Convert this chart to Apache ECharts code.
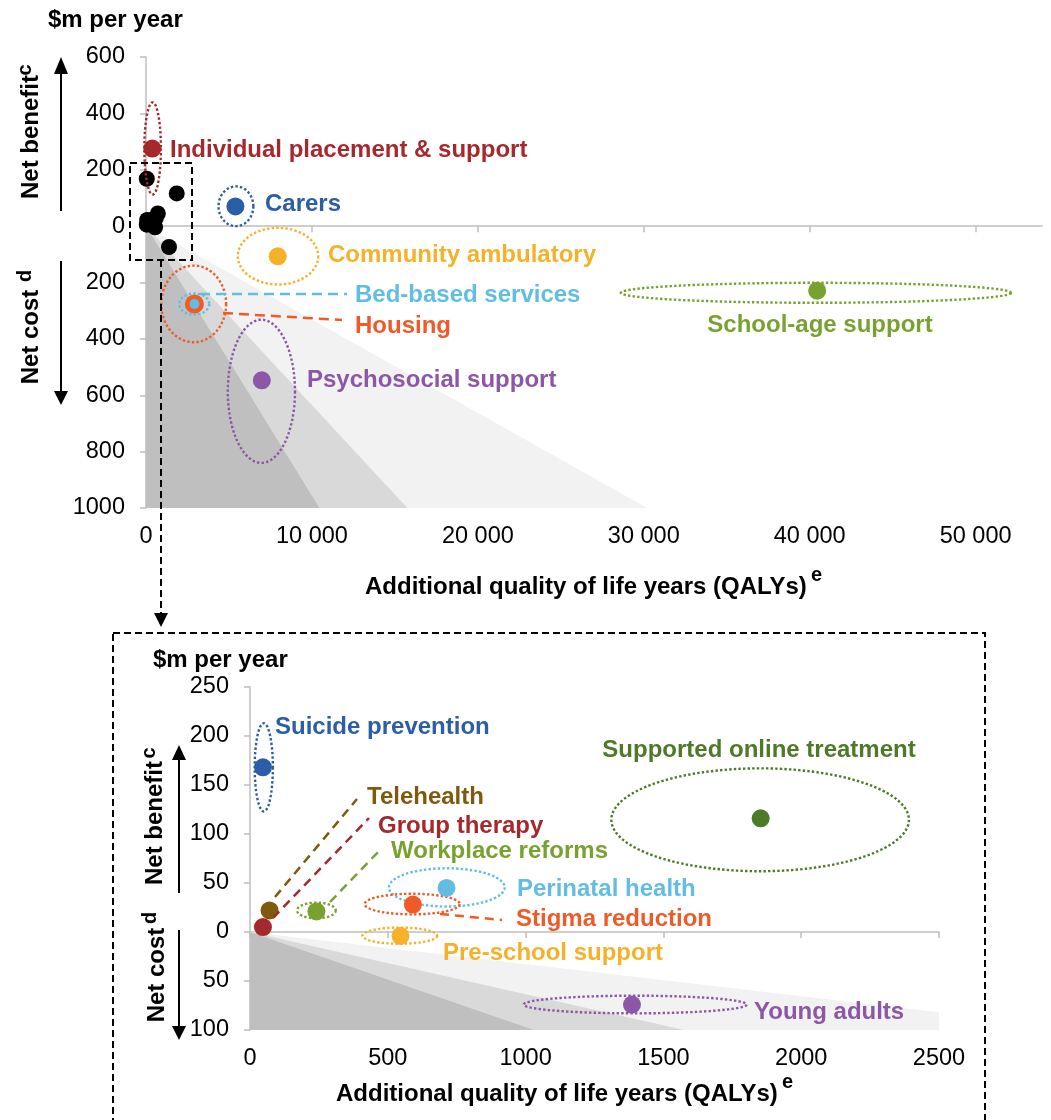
<!DOCTYPE html>
<html><head><meta charset="utf-8">
<script src="https://cdn.jsdelivr.net/npm/echarts@6/dist/echarts.min.js"></script>
<style>html,body{margin:0;padding:0;background:#fff}#c{width:1051px;height:1120px}</style>
</head><body><div id="c"></div>
<script>
// ---------------- DATA ----------------
// Top panel: interventions (additional QALYs, net benefit in $m per year; negative = net cost)
const topNames = ['Individual placement & support','Carers','Community ambulatory','Housing','Bed-based services','Psychosocial support','School-age support'];
const topQALYs = [380, 5390, 7940, 2920, 2920, 6980, 40450];
const topNetBenefit = [275, 70, -107, -276, -276, -547, -229];
// uncertainty ranges (ellipses)
const topQALYLow  = [-100, 4370, 5530, 920, 2000, 4930, 28620];
const topQALYHigh = [900, 6470, 10380, 4830, 3810, 8980, 52130];
const topBenefitLow  = [112, 0, -207, -412, -314, -840, -272];
const topBenefitHigh = [439, 141, -6, -140, -239, -332, -201];

// Bottom panel (zoom of the dashed box)
const botNames = ['Suicide prevention','Telehealth','Group therapy','Workplace reforms','Perinatal health','Stigma reduction','Pre-school support','Supported online treatment','Young adults'];
const botQALYs = [47, 71, 47, 241, 713, 591, 546, 1853, 1386];
const botNetBenefit = [168, 22, 5, 21, 45, 28, -4, 116, -74];
const botQALYLow  = [17, null, null, 171, 504, 416, 408, 1311, 993];
const botQALYHigh = [83, null, null, 311, 924, 761, 679, 2391, 1802];
const botBenefitLow  = [123, null, null, 14, 26, 18, -12, 62, -83];
const botBenefitHigh = [213, null, null, 30, 65, 39, 4.5, 167, -65];

// Cost-effectiveness wedges: QALYs reached at the bottom of each panel (light, medium, dark)
const topWedgeQALYs = [30200, 15750, 10450];   // at net cost of $1000m
const botWedgeQALYs = [3050, 1575, 1030];      // at net cost of $100m
const topWedgeCost = -1000, botWedgeCost = -100;

// Tick labels
const topXTicks = [0, 10000, 20000, 30000, 40000, 50000];
const botXTicks = [0, 500, 1000, 1500, 2000, 2500];

// ---------------- STYLES ----------------
const colorOf = {
  'Individual placement & support':'#a5282c','Carers':'#2b5ea6','Community ambulatory':'#f6b12a',
  'Housing':'#f05a28','Bed-based services':'#62bde3','Psychosocial support':'#8b57a6','School-age support':'#78a22f',
  'Suicide prevention':'#2b5ea6','Telehealth':'#7f5a0c','Group therapy':'#a5282c','Workplace reforms':'#78a22f',
  'Perinatal health':'#62bde3','Stigma reduction':'#f05a28','Pre-school support':'#f6b12a',
  'Supported online treatment':'#4d7a26','Young adults':'#8b57a6'
};
const sizeOf = {'Housing':19,'Bed-based services':10};
const wedgeColors = ['#f2f2f2','#d9d9d9','#bfbfbf'];
const FONT = '"Liberation Sans", Arial, sans-serif';
const AX = '#bfbfbf';

function ellipseRender(params, api) {
  const p0 = api.coord([api.value(0), api.value(2)]);
  const p1 = api.coord([api.value(1), api.value(3)]);
  const cx = (p0[0]+p1[0])/2, cy = (p0[1]+p1[1])/2;
  const rx = Math.abs(p1[0]-p0[0])/2, ry = Math.abs(p1[1]-p0[1])/2;
  const pts = [];
  for (let i = 0; i < 120; i++) { const t = i/120*2*Math.PI; pts.push([cx+rx*Math.cos(t), cy+ry*Math.sin(t)]); }
  return {type:'polygon', shape:{points:pts}, style:{fill:'none', stroke:api.visual('color'), lineWidth:2.4, lineDash:[2.4,2.2]}};
}
function ellipseData(names, xl, xh, yl, yh) {
  const out = [];
  names.forEach((n,i) => { if (xl[i] !== null) out.push({name:n, value:[xl[i], xh[i], yl[i], yh[i]], itemStyle:{color:colorOf[n]}}); });
  return out;
}
function dotData(names, xs, ys) {
  return names.map((n,i) => ({name:n, value:[xs[i], ys[i]], symbolSize:sizeOf[n]||18, itemStyle:{color:colorOf[n]}}));
}
function wedgeSeries(ends, cost, xi, yi) {
  return ends.map((q,i) => ({type:'line', xAxisIndex:xi, yAxisIndex:yi, data:[[0,0],[q,cost]], symbol:'none', silent:true,
    lineStyle:{width:0}, areaStyle:{color:wedgeColors[i], opacity:1, origin:'start'}, z:1+i*0.1, animation:false}));
}
const fmtThousand = v => v === 0 ? '0' : (Math.round(v/1000) + ' 000');

function axesFor(grid, min, max, ticks, fmt) {
  return [
    {gridIndex:grid, type:'value', min:min, max:max, position:'bottom',
     axisLine:{show:true, onZero:true, lineStyle:{color:AX, width:1.5}},
     axisTick:{show:true, inside:false, length:6, lineStyle:{color:AX, width:1.5}, customValues:ticks},
     axisLabel:{show:false}, splitLine:{show:false}},
    {gridIndex:grid, type:'value', min:min, max:max, position:'bottom',
     axisLine:{show:false, onZero:false}, axisTick:{show:false}, splitLine:{show:false},
     axisLabel:{show:true, customValues:ticks, formatter:fmt, color:'#000', fontSize:23.5, fontFamily:FONT, margin:17}}
  ];
}

// ---------------- ANNOTATIONS ----------------
const G = [];
function txt(x, y, s, color, size, bold, align, rot) {
  G.push({type:'text', x:x, y:y, rotation:rot||0, z:100,
    style:{text:s, fill:color, font:(bold?'bold ':'')+size+'px '+FONT, textAlign:align||'left', align:align||'left',
           textVerticalAlign:'middle', verticalAlign:'middle'}});
}
function seg(x1,y1,x2,y2,color,dash,w) {
  G.push({type:'line', z:100, shape:{x1:x1,y1:y1,x2:x2,y2:y2}, style:{stroke:color, lineWidth:w||2.5, lineDash:dash||null}});
}
function head(pts) { G.push({type:'polygon', z:100, shape:{points:pts}, style:{fill:'#000'}}); }

const LS = 24;
// top panel labels
txt(48, 20, '$m per year', '#000', LS, true);
txt(170, 150, 'Individual placement & support', colorOf['Individual placement & support'], LS, true);
txt(265, 204, 'Carers', colorOf['Carers'], LS, true);
txt(328, 255, 'Community ambulatory', colorOf['Community ambulatory'], LS, true);
txt(355, 295, 'Bed-based services', colorOf['Bed-based services'], LS, true);
txt(355, 326, 'Housing', colorOf['Housing'], LS, true);
txt(820, 325, 'School-age support', colorOf['School-age support'], LS, true, 'center');
txt(307, 380, 'Psychosocial support', colorOf['Psychosocial support'], LS, true);
seg(200, 294, 347, 294, colorOf['Bed-based services'], [10,6]);
seg(223, 313, 342, 320, colorOf['Housing'], [10,6]);
txt(31, 137, 'Net benefit', '#000', LS, true, 'center', Math.PI/2);
txt(25, 70, 'c', '#000', 20, true, 'center', Math.PI/2);
txt(31, 337, 'Net cost', '#000', LS, true, 'center', Math.PI/2);
txt(25, 276, 'd', '#000', 20, true, 'center', Math.PI/2);
seg(61, 211, 61, 72, '#000', null, 2); head([[54,74],[68,74],[61,57]]);
seg(61, 261, 61, 392, '#000', null, 2); head([[54,391],[68,391],[61,405]]);
txt(365, 587, 'Additional quality of life years (QALYs)', '#000', LS, true);
txt(811, 575, 'e', '#000', 20, true);
// zoom box & connector
G.push({type:'rect', z:100, shape:{x:130, y:163, width:62, height:97}, style:{fill:'none', stroke:'#000', lineWidth:2, lineDash:[7,4]}});
seg(161, 260, 161, 614, '#000', [7,4], 2); head([[154,613],[168,613],[161,627]]);
G.push({type:'rect', z:100, shape:{x:113, y:633, width:872, height:540}, style:{fill:'none', stroke:'#000', lineWidth:2, lineDash:[7,4]}});

// bottom panel labels
txt(153, 660, '$m per year', '#000', LS, true);
txt(275, 727, 'Suicide prevention', colorOf['Suicide prevention'], LS, true);
txt(759, 750, 'Supported online treatment', colorOf['Supported online treatment'], LS, true, 'center');
txt(367, 797, 'Telehealth', colorOf['Telehealth'], LS, true);
txt(378, 826, 'Group therapy', colorOf['Group therapy'], LS, true);
txt(391, 851, 'Workplace reforms', colorOf['Workplace reforms'], LS, true);
txt(517, 889, 'Perinatal health', colorOf['Perinatal health'], LS, true);
txt(516, 919, 'Stigma reduction', colorOf['Stigma reduction'], LS, true);
txt(443, 953, 'Pre-school support', colorOf['Pre-school support'], LS, true);
txt(754, 1012, 'Young adults', colorOf['Young adults'], LS, true);
seg(275, 897, 357, 799, colorOf['Telehealth'], [9,6]);
seg(273, 918, 369, 818, colorOf['Group therapy'], [9,6]);
seg(330, 902, 380, 850, colorOf['Workplace reforms'], [9,6]);
seg(440, 914, 502, 920, colorOf['Stigma reduction'], [9,6]);
txt(155, 823, 'Net benefit', '#000', LS, true, 'center', Math.PI/2);
txt(149, 753, 'c', '#000', 20, true, 'center', Math.PI/2);
txt(157, 975, 'Net cost', '#000', LS, true, 'center', Math.PI/2);
txt(150, 918, 'd', '#000', 20, true, 'center', Math.PI/2);
seg(179, 893, 179, 758, '#000', null, 2); head([[172,760],[186,760],[179,745]]);
seg(179, 930, 179, 1027, '#000', null, 2); head([[172,1026],[186,1026],[179,1040]]);
txt(336, 1094, 'Additional quality of life years (QALYs)', '#000', LS, true);
txt(782, 1082, 'e', '#000', 20, true);

// ---------------- CHART ----------------
const chart = echarts.init(document.getElementById('c'), null, {renderer:'canvas'});
const yAx = (grid, min, max, iv) => ({gridIndex:grid, type:'value', min:min, max:max, interval:iv,
  axisLine:{show:true, onZero:false, lineStyle:{color:AX, width:1.5}},
  axisTick:{show:true, inside:false, length:6, lineStyle:{color:AX, width:1.5}},
  axisLabel:{color:'#000', fontSize:23.5, fontFamily:FONT, margin:21, formatter:v => String(Math.abs(v))},
  splitLine:{show:false}});

chart.setOption({
  animation:false,
  backgroundColor:'#fff',
  grid:[{left:146, top:57, width:896, height:451}, {left:250, top:687, width:689, height:343}],
  xAxis:[].concat(axesFor(0, 0, 54000, topXTicks, fmtThousand), axesFor(1, 0, 2500, botXTicks, v => String(v))),
  yAxis:[yAx(0, -1000, 600, 200), yAx(1, -100, 250, 50)],
  series:[].concat(
    wedgeSeries(topWedgeQALYs, topWedgeCost, 0, 0),
    wedgeSeries(botWedgeQALYs, botWedgeCost, 2, 1),
    [
      {type:'scatter', xAxisIndex:0, yAxisIndex:0, data:botQALYs.map((q,i)=>[q, botNetBenefit[i]]), symbolSize:16, itemStyle:{color:'#000', opacity:1}, z:3, silent:true},
      {type:'custom', xAxisIndex:0, yAxisIndex:0, renderItem:ellipseRender, data:ellipseData(topNames, topQALYLow, topQALYHigh, topBenefitLow, topBenefitHigh), clip:false, z:4, silent:true},
      {type:'scatter', xAxisIndex:0, yAxisIndex:0, data:dotData(topNames, topQALYs, topNetBenefit), itemStyle:{opacity:1}, z:5, silent:true},
      {type:'custom', xAxisIndex:2, yAxisIndex:1, renderItem:ellipseRender, data:ellipseData(botNames, botQALYLow, botQALYHigh, botBenefitLow, botBenefitHigh), clip:false, z:4, silent:true},
      {type:'scatter', xAxisIndex:2, yAxisIndex:1, data:dotData(botNames, botQALYs, botNetBenefit), itemStyle:{opacity:1}, z:5, silent:true}
    ]
  ),
  graphic:{elements:G}
});
</script>
</body></html>
